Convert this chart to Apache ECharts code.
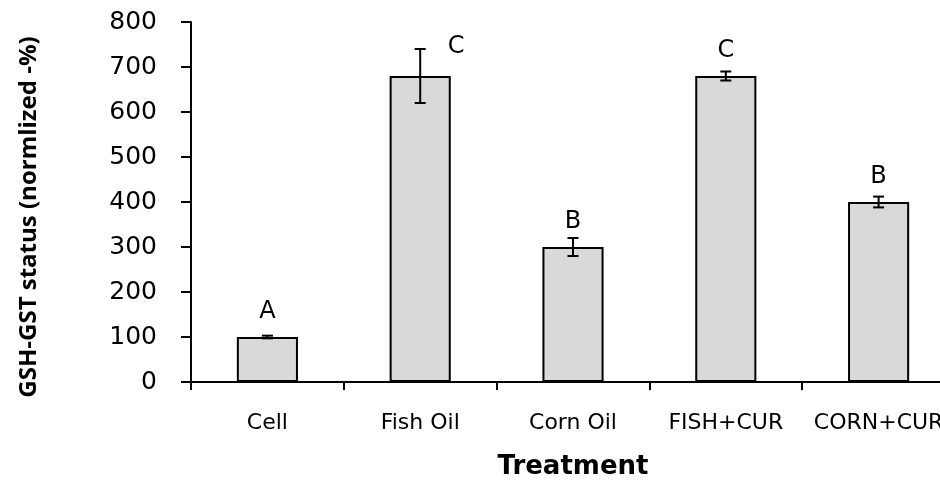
<!DOCTYPE html>
<html>
<head>
<meta charset="utf-8">
<script src="https://cdn.jsdelivr.net/npm/echarts@6/dist/echarts.min.js"></script>
<style>html,body{margin:0;padding:0;background:#fff;}#c{width:940px;height:480px;}</style>
</head>
<body>
<div id="c"></div>
<script>
// ---- data ----
var categories = ['Cell', 'Fish Oil', 'Corn Oil', 'FISH+CUR', 'CORN+CUR'];
var means = [100, 680, 300, 680, 400];
var errors = [3, 60, 20, 10, 12];
var letters = ['A', 'C', 'B', 'C', 'B'];
var yTicks = [0, 100, 200, 300, 400, 500, 600, 700, 800];

// ---- style helpers (pixel nudges for significance letters) ----
var letterNudge = [[0, -24], [36, -2], [0, -16], [0, -21], [0, -20]];

var chart = echarts.init(document.getElementById('c'), null, {renderer: 'canvas'});

var errData = categories.map(function (c, i) { return [i, means[i], errors[i]]; });
var letterData = categories.map(function (c, i) { return [i, means[i] + errors[i], letters[i]]; });

var option = {
  animation: false,
  backgroundColor: '#ffffff',
  grid: {left: 191, top: 22, right: -15, bottom: 98, containLabel: false, outerBoundsMode: 'none'},
  xAxis: {
    type: 'category',
    data: categories,
    boundaryGap: true,
    name: 'Treatment',
    nameLocation: 'middle',
    nameGap: 72,
    nameTextStyle: {fontFamily: 'DejaVu Sans', fontWeight: 'bold', fontSize: 26, color: '#000'},
    axisLine: {lineStyle: {color: '#000', width: 2}},
    axisTick: {show: true, alignWithLabel: false, length: 8, lineStyle: {color: '#000', width: 2}},
    axisLabel: {margin: 30, fontFamily: 'DejaVu Sans', fontSize: 22, color: '#000', interval: 0}
  },
  yAxis: {
    type: 'value',
    min: yTicks[0],
    max: yTicks[yTicks.length - 1],
    interval: 100,
    axisLine: {show: true, lineStyle: {color: '#000', width: 2}},
    axisTick: {show: true, length: 10, lineStyle: {color: '#000', width: 2}},
    axisLabel: {margin: 34, fontFamily: 'DejaVu Sans', fontSize: 25, color: '#000'},
    splitLine: {show: false}
  },
  graphic: [{
    type: 'text',
    x: 29, y: 217,
    rotation: Math.PI / 2,
    style: {
      text: 'GSH-GST status (normlized -%)',
      fontFamily: 'Open Sans', fontWeight: 'bold', fontSize: 24,
      fill: '#000', align: 'center', verticalAlign: 'middle'
    }
  }],
  series: [
    {
      type: 'bar',
      data: means,
      barWidth: '40%',
      itemStyle: {color: '#d9d9d9', borderColor: '#000', borderWidth: 2},
      z: 2
    },
    {
      type: 'custom',
      data: errData,
      z: 5,
      renderItem: function (params, api) {
        var i = api.value(0), m = api.value(1), e = api.value(2);
        var top = api.coord([i, m + e]);
        var bot = api.coord([i, m - e]);
        var w = 5.5;
        var st = {stroke: '#000', lineWidth: 2};
        return {
          type: 'group',
          children: [
            {type: 'line', shape: {x1: top[0], y1: top[1], x2: bot[0], y2: bot[1]}, style: st},
            {type: 'line', shape: {x1: top[0] - w, y1: top[1], x2: top[0] + w, y2: top[1]}, style: st},
            {type: 'line', shape: {x1: bot[0] - w, y1: bot[1], x2: bot[0] + w, y2: bot[1]}, style: st}
          ]
        };
      }
    },
    {
      type: 'custom',
      data: letterData,
      z: 6,
      renderItem: function (params, api) {
        var idx = params.dataIndex;
        var p = api.coord([api.value(0), api.value(1)]);
        var n = letterNudge[idx];
        return {
          type: 'text',
          x: p[0] + n[0], y: p[1] + n[1],
          style: {
            text: letters[idx],
            fontFamily: 'DejaVu Sans', fontSize: 24, fill: '#000',
            align: 'center', verticalAlign: 'middle'
          }
        };
      }
    }
  ]
};
chart.setOption(option);
</script>
</body>
</html>
